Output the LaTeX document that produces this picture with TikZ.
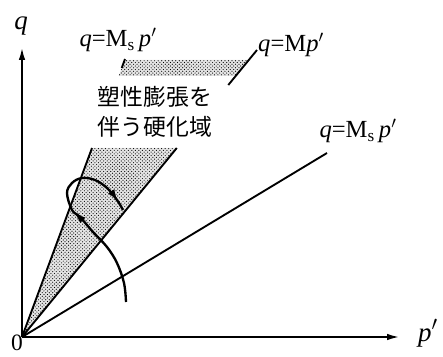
\documentclass[tikz,border=0pt]{standalone}
\usepackage{fontspec}
\setmainfont{Liberation Serif}
\newfontfamily\jpfont{Noto Sans CJK JP}
\usetikzlibrary{arrows.meta, patterns, decorations.markings}

\begin{document}
\begin{tikzpicture}[
    x=0.03cm, y=0.03cm,
    axis/.style={line width=1.8pt, -{Latex[length=11pt,width=5.5pt]}},
    line/.style={line width=1.6pt},
    dotfill/.style={fill=black!10, postaction={pattern=crosshatch dots, pattern color=black}},
    lbl/.style={font=\fontsize{21}{23}\selectfont, inner sep=0pt},
    axlbl/.style={font=\fontsize{23}{25}\selectfont, inner sep=0pt},
    jptext/.style={font=\jpfont\fontsize{19.5}{25.5}\selectfont, align=center, inner sep=0pt},
    stresspath/.style={line width=2pt, decoration={markings,
        mark=at position 0.52 with {\arrow{Latex[length=10pt,width=6.5pt]}},
        mark=at position 0.95 with {\arrow{Latex[length=10pt,width=6.5pt]}}},
        postaction=decorate}
]
\useasboundingbox (-22,-19) rectangle (421,337);

% origin and line ends
\coordinate (O) at (0,0);
\coordinate (xend) at (378,0);
\coordinate (yend) at (0,290);
\coordinate (MsTop) at (103,278);
\coordinate (MsLow) at (70.0,189);
\coordinate (MsUp) at (99.7,269);
\coordinate (MTop) at (235,287);
\coordinate (MLow) at (154.8,189);
\coordinate (MUp) at (206.3,252);
\coordinate (MsRight) at (305,184);

% dotted hardening zone
\path[dotfill] (O) -- (MsLow) -- (MLow) -- cycle;
\path[dotfill] (96.7,261) -- (102.6,277) -- (226.8,277) -- (213.7,261) -- cycle;

% axes
\draw[axis] (O) -- (xend);
\draw[axis] (O) -- (yend);

% lines through origin
\draw[line] (O) -- (MsLow);
\draw[line] (MsUp) -- (MsTop);
\draw[line] (O) -- (MLow);
\draw[line] (MUp) -- (MTop);
\draw[line] (O) -- (MsRight);

% stress path
\draw[stresspath] plot[smooth, tension=0.6] coordinates {
    (104,35) (102,54) (95,74) (85,90) (71,105) (58,120) (50,127)
    (45,144) (50,154) (60,159) (73,157) (85,149) (95,137) (101,127)};

% labels
\node[axlbl] (qlbl) at (-1,311) {\textit{q}};
\node[axlbl] (plbl) at (406,4) {\textit{p}$'$};
\node[axlbl, font=\fontsize{20}{22}\selectfont] (zero) at (-5,-6) {0};
\node[lbl] (lblMsTop) at (96,297) {\textit{q}=M\textsubscript{s}\,\textit{p}$'$};
\node[lbl, anchor=west] (lblM) at (236,292) {\textit{q}=M\textit{p}$'$};
\node[lbl] (lblMsRight) at (336,206) {\textit{q}=M\textsubscript{s}\,\textit{p}$'$};
\node[jptext] (zone) at (133,225) {塑性膨張を\\伴う硬化域};
\end{tikzpicture}
\end{document}
